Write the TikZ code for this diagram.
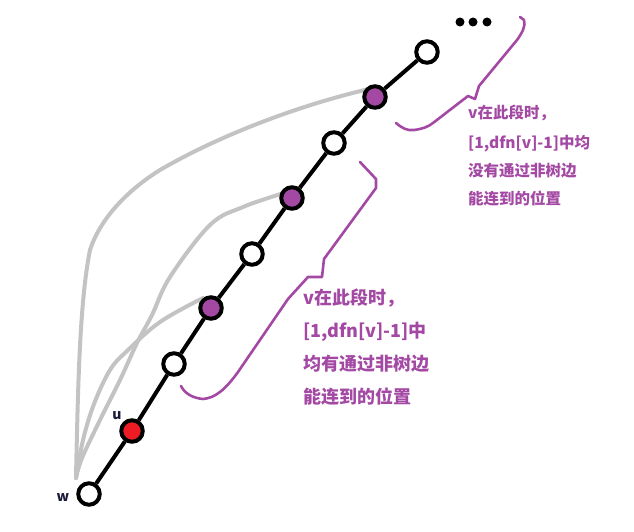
\documentclass[tikz,border=0pt]{standalone}
\usepackage{fontspec}
\setmainfont{Noto Sans CJK SC}
\usetikzlibrary{calc}
\definecolor{ppurple}{HTML}{A349A4}
\definecolor{pred}{HTML}{ED1C24}
\definecolor{pgray}{HTML}{C3C3C3}
\definecolor{lblue}{HTML}{1A1A3A}
\tikzset{
  vnode/.style={circle, draw=black, line width=4pt, minimum size=21.5pt, inner sep=0pt, fill=white},
  vpurple/.style={vnode, fill=ppurple},
  vred/.style={vnode, fill=pred},
  treeedge/.style={draw=black, line width=4pt},
  backedge/.style={draw=pgray, line width=4pt, line cap=round},
  bracepath/.style={draw=ppurple, line width=2.6pt, line cap=round, line join=round},
  note/.style={text=ppurple, anchor=base west, inner sep=0pt},
  smallnote/.style={note, font=\bfseries\fontsize{15.5}{15.5}\selectfont},
  bignote/.style={note, font=\bfseries\fontsize{18}{18}\selectfont},
  vlabel/.style={text=lblue, font=\bfseries\fontsize{14}{14}\selectfont, inner sep=0pt},
  dotnode/.style={circle, fill=black, minimum size=9pt, inner sep=0pt},
}
\begin{document}
\begin{tikzpicture}[x=1pt,y=-1pt]
\useasboundingbox (0,0) rectangle (634,532);
% positions
\coordinate (pw) at (89,494);
\coordinate (pu) at (132,431);
\coordinate (p3) at (174,364);
\coordinate (p4) at (211,308);
\coordinate (p5) at (252,254);
\coordinate (p6) at (292,198);
\coordinate (p7) at (334,143);
\coordinate (p8) at (375,97);
\coordinate (p9) at (427,52);
\coordinate (g) at (76,478);
\coordinate (e8) at (369,89);
\coordinate (e6) at (284,193);
\coordinate (e4) at (203,298);
% back edges (gray)
\draw[backedge] (g) .. controls (78,380) and (80,300) .. (90,250)
  .. controls (98,225) and (120,195) .. (160,170)
  .. controls (220,135) and (300,105) .. (e8);
\draw[backedge] plot[smooth, tension=0.6] coordinates {(g) (82,458) (100,420) (120,380) (137,343) (152,315) (170,277) (210,225) (243,207) (e6)};
\draw[backedge] plot[smooth, tension=0.6] coordinates {(g) (83,440) (94,404) (110,370) (127,351) (160,322) (e4)};
% tree nodes
\node[vnode]   (w)  at (pw) {};
\node[vred]    (u)  at (pu) {};
\node[vnode]   (n3) at (p3) {};
\node[vpurple] (n4) at (p4) {};
\node[vnode]   (n5) at (p5) {};
\node[vpurple] (n6) at (p6) {};
\node[vnode]   (n7) at (p7) {};
\node[vpurple] (n8) at (p8) {};
\node[vnode]   (n9) at (p9) {};
\draw[treeedge] (w) -- (u) -- (n3) -- (n4) -- (n5) -- (n6) -- (n7) -- (n8) -- (n9);
% dots
\node[dotnode] (d1) at (460,22) {};
\node[dotnode] (d2) at (473,22) {};
\node[dotnode] (d3) at (487,22) {};
% labels
\node[vlabel] (lu) at (117,416) {u};
\node[vlabel] (lw) at (63,498) {w};
% braces
\draw[bracepath] (396,123) .. controls (402,128) and (407,131) .. (414,130)
  .. controls (422,129) and (428,127) .. (433,123) -- (468,96)
  -- (475,99) -- (479,86) -- (517,40) .. controls (522,33) and (526,26) .. (524,20) -- (520,17);
\draw[bracepath] (360,162) -- (376,179) -- (376,188) -- (324,259) -- (322,277) -- (308,277)
  -- (288,299) -- (238,372) .. controls (225,390) and (215,398) .. (203,399)
  .. controls (193,398) and (185,394) .. (181,386);
% notes
\node[smallnote] (t1) at (468,119) {v在此段时，};
\node[smallnote] (t2) at (468,148) {[1,dfn[v]-1]中均};
\node[smallnote] (t3) at (468,176) {没有通过非树边};
\node[smallnote] (t4) at (468,204) {能连到的位置};
\node[bignote] (m1) at (303,304) {v在此段时，};
\node[bignote] (m2) at (303,337) {[1,dfn[v]-1]中};
\node[bignote] (m3) at (303,370) {均有通过非树边};
\node[bignote] (m4) at (303,403) {能连到的位置};
\end{tikzpicture}
\end{document}
